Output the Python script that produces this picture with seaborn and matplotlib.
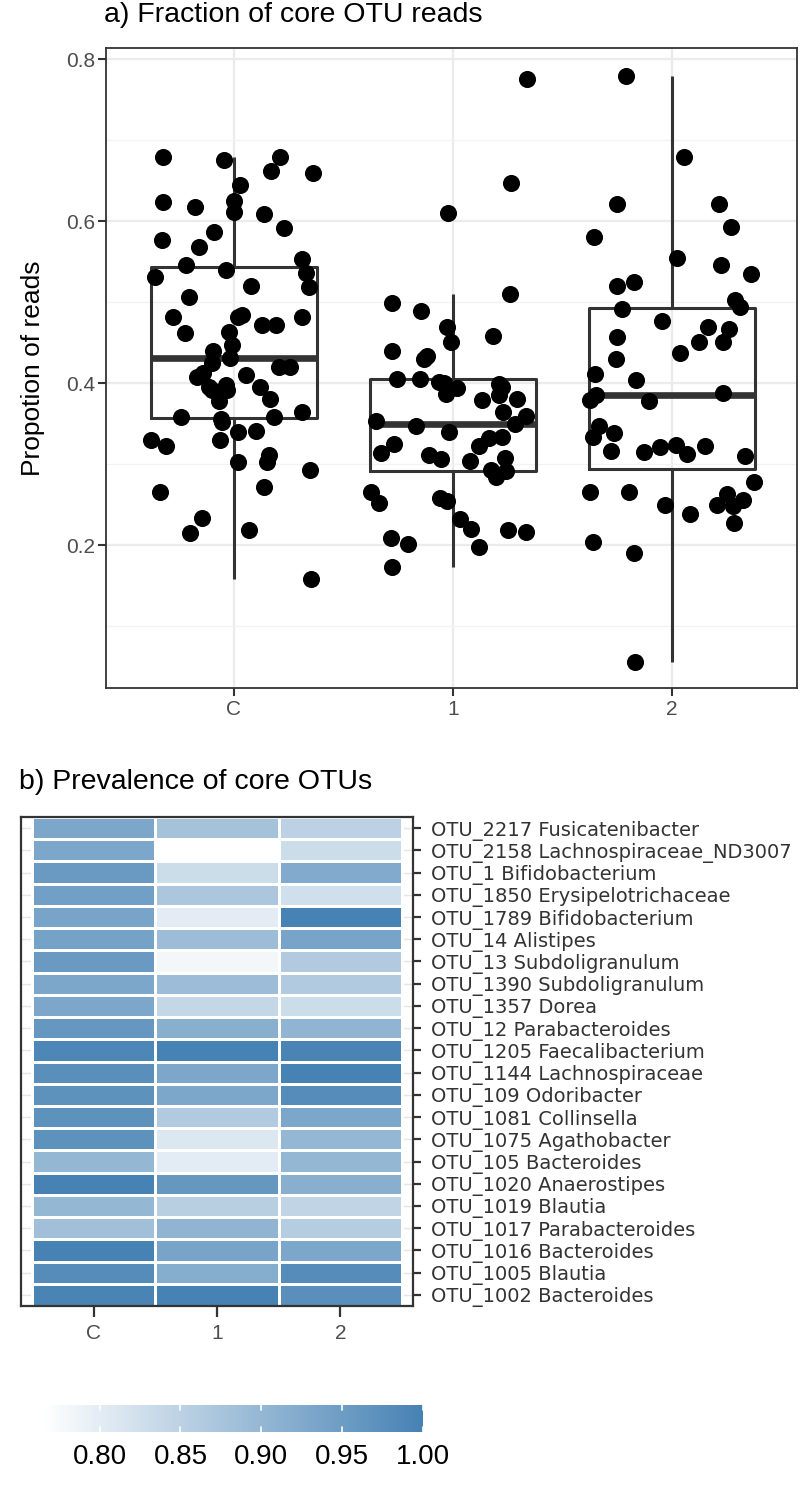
import numpy as np
import pandas as pd
import matplotlib
matplotlib.use('Agg')
import matplotlib.pyplot as plt
from matplotlib.colors import LinearSegmentedColormap
import seaborn as sns

# --- dados: fracao de reads dos OTUs core por grupo ---
groups = ['C', '1', '2']

prop_c = [0.679, 0.679, 0.675, 0.662, 0.659, 0.644, 0.625, 0.623, 0.617, 0.611,
          0.609, 0.591, 0.586, 0.577, 0.568, 0.553, 0.546, 0.540, 0.536, 0.531,
          0.520, 0.519, 0.506, 0.484, 0.481, 0.481, 0.481, 0.472, 0.472, 0.463,
          0.462, 0.447, 0.440, 0.431, 0.425, 0.420, 0.420, 0.412, 0.410, 0.407,
          0.398, 0.395, 0.395, 0.391, 0.391, 0.380, 0.378, 0.364, 0.358, 0.358,
          0.356, 0.352, 0.341, 0.340, 0.330, 0.330, 0.322, 0.311, 0.302, 0.302,
          0.293, 0.272, 0.265, 0.233, 0.219, 0.215, 0.158]
prop_1 = [0.775, 0.647, 0.610, 0.510, 0.499, 0.489, 0.469, 0.458, 0.451, 0.440,
          0.433, 0.430, 0.405, 0.405, 0.401, 0.400, 0.399, 0.395, 0.394, 0.386,
          0.385, 0.380, 0.379, 0.364, 0.359, 0.353, 0.349, 0.347, 0.340, 0.333,
          0.332, 0.325, 0.322, 0.314, 0.311, 0.307, 0.306, 0.304, 0.293, 0.291,
          0.284, 0.265, 0.258, 0.254, 0.252, 0.232, 0.220, 0.219, 0.216, 0.209,
          0.201, 0.198, 0.173]
prop_2 = [0.779, 0.679, 0.621, 0.621, 0.593, 0.580, 0.554, 0.546, 0.535, 0.525,
          0.520, 0.502, 0.494, 0.491, 0.477, 0.469, 0.467, 0.457, 0.451, 0.451,
          0.437, 0.430, 0.411, 0.404, 0.388, 0.385, 0.379, 0.378, 0.347, 0.338,
          0.333, 0.323, 0.322, 0.321, 0.316, 0.315, 0.312, 0.310, 0.278, 0.265,
          0.265, 0.263, 0.256, 0.249, 0.249, 0.248, 0.238, 0.227, 0.204, 0.190,
          0.056]

# --- dados: prevalencia dos OTUs core (de cima para baixo) ---
otus = ['OTU_2217 Fusicatenibacter', 'OTU_2158 Lachnospiraceae_ND3007',
        'OTU_1 Bifidobacterium', 'OTU_1850 Erysipelotrichaceae',
        'OTU_1789 Bifidobacterium', 'OTU_14 Alistipes', 'OTU_13 Subdoligranulum',
        'OTU_1390 Subdoligranulum', 'OTU_1357 Dorea', 'OTU_12 Parabacteroides',
        'OTU_1205 Faecalibacterium', 'OTU_1144 Lachnospiraceae',
        'OTU_109 Odoribacter', 'OTU_1081 Collinsella', 'OTU_1075 Agathobacter',
        'OTU_105 Bacteroides', 'OTU_1020 Anaerostipes', 'OTU_1019 Blautia',
        'OTU_1017 Parabacteroides', 'OTU_1016 Bacteroides', 'OTU_1005 Blautia',
        'OTU_1002 Bacteroides']
prev_c = [0.930, 0.930, 0.955, 0.945, 0.935, 0.940, 0.955, 0.930, 0.930, 0.960,
          0.990, 0.975, 0.970, 0.970, 0.970, 0.900, 1.000, 0.900, 0.885, 1.000,
          0.980, 0.995]
prev_1 = [0.880, 0.765, 0.830, 0.870, 0.800, 0.890, 0.780, 0.890, 0.840, 0.915,
          1.000, 0.930, 0.930, 0.865, 0.810, 0.800, 0.960, 0.855, 0.905, 0.935,
          0.920, 1.000]
prev_2 = [0.850, 0.830, 0.925, 0.825, 1.000, 0.935, 0.865, 0.865, 0.830, 0.905,
          0.995, 1.000, 0.980, 0.930, 0.900, 0.900, 0.915, 0.845, 0.860, 0.930,
          0.980, 0.975]
cbar_ticks = [0.80, 0.85, 0.90, 0.95, 1.00]

sns.set_theme(style='ticks')
plt.rcParams['font.family'] = ['Liberation Sans', 'DejaVu Sans']

W, H = 800, 1498
fig = plt.figure(figsize=(W / 100, H / 100), dpi=100)


def px_box(l, t, r, b):
    # converte pixels (esq, topo, dir, base) em coordenadas da figura
    return [l / W, 1 - b / H, (r - l) / W, (b - t) / H]


dark = '#333333'
tick_col = '#4D4D4D'

# ---------- painel a) ----------
df = pd.DataFrame({
    'grupo': ['C'] * len(prop_c) + ['1'] * len(prop_1) + ['2'] * len(prop_2),
    'prop': prop_c + prop_1 + prop_2,
})

ax1 = fig.add_axes(px_box(106, 48, 797, 688))
sns.boxplot(data=df, x='grupo', y='prop', order=groups, width=0.76, fill=False,
            color=dark, linewidth=2.2, showfliers=False, showcaps=False,
            medianprops={'linewidth': 4.8}, ax=ax1, zorder=2)
np.random.seed(7)
sns.stripplot(data=df, x='grupo', y='prop', order=groups, color='black',
              size=12.3, jitter=0.38, linewidth=0, ax=ax1, zorder=3)

ax1.set_xlim(-0.584, 2.571)
ax1.set_ylim(0.0235, 0.8136)
ax1.set_yticks([0.2, 0.4, 0.6, 0.8])
ax1.set_yticklabels(['0.2', '0.4', '0.6', '0.8'])
ax1.set_yticks([0.1, 0.3, 0.5, 0.7], minor=True)
ax1.set_axisbelow(True)
ax1.grid(which='major', color='#EBEBEB', linewidth=1.6)
ax1.grid(which='minor', axis='y', color='#F2F2F2', linewidth=0.9)
ax1.tick_params(which='major', length=6, width=1.5, color=dark,
                labelsize=15, labelcolor=tick_col, pad=3)
ax1.tick_params(axis='y', which='major', pad=2)
ax1.tick_params(which='minor', length=0)
for s in ax1.spines.values():
    s.set_visible(True)
    s.set_color(dark)
    s.set_linewidth(1.3)
ax1.set_xlabel('')
ax1.set_ylabel('Propotion of reads', fontsize=19, color='black')
ax1.yaxis.label.set_va('center')
ax1.yaxis.set_label_coords((33 - 106) / 691, 0.5)

fig.text(104 / W, 1 - 22 / H, 'a) Fraction of core OTU reads', fontsize=20.5,
         color='black', ha='left', va='baseline')

# ---------- painel b) ----------
prev = pd.DataFrame({'C': prev_c, '1': prev_1, '2': prev_2}, index=otus)
cmap = LinearSegmentedColormap.from_list('prev', ['#FFFFFF', '#4682B4'])

ax2 = fig.add_axes(px_box(21, 817, 413, 1306))
cax = fig.add_axes(px_box(43, 1405, 423, 1432))
sns.heatmap(prev, ax=ax2, cmap=cmap, vmin=0.765, vmax=1.0, linewidths=1,
            linecolor='white', cbar_ax=cax,
            cbar_kws={'orientation': 'horizontal', 'ticks': cbar_ticks})

ax2.set_xlim(-0.089, 3.089)
ax2.set_ylim(len(otus), 0)
ax2.yaxis.tick_right()
ax2.set_yticks(np.arange(len(otus)) + 0.5)
ax2.set_yticklabels(otus, rotation=0, fontsize=14, color=dark,
                    family=['DejaVu Sans'])
ax2.set_xticks(np.arange(3) + 0.5)
ax2.set_xticklabels(groups, fontsize=15, color=tick_col)
ax2.tick_params(axis='y', right=True, left=False, length=6, width=1.6,
                color=dark, pad=7)
ax2.tick_params(axis='x', bottom=True, length=8, width=1.6, color=dark, pad=5)
ax2.set_axisbelow(True)
ax2.yaxis.grid(True, color='#E5E5E5', linewidth=1.0)
for s in ax2.spines.values():
    s.set_visible(True)
    s.set_color(dark)
    s.set_linewidth(1.6)
ax2.set_xlabel('')
ax2.set_ylabel('')

fig.text(19 / W, 1 - 789 / H, 'b) Prevalence of core OTUs', fontsize=20.5,
         color='black', ha='left', va='baseline')

# barra de cores no estilo ggplot
cax.tick_params(length=0, labelsize=20, labelcolor='black', pad=9)
cax.set_xticklabels(['0.80', '0.85', '0.90', '0.95', '1.00'])
for s in cax.spines.values():
    s.set_visible(False)
for t in cbar_ticks:
    cax.axvline(t, 0, 0.2, color='white', linewidth=1.2)
    cax.axvline(t, 0.8, 1, color='white', linewidth=1.2)

fig.savefig('out.png', dpi=100)
